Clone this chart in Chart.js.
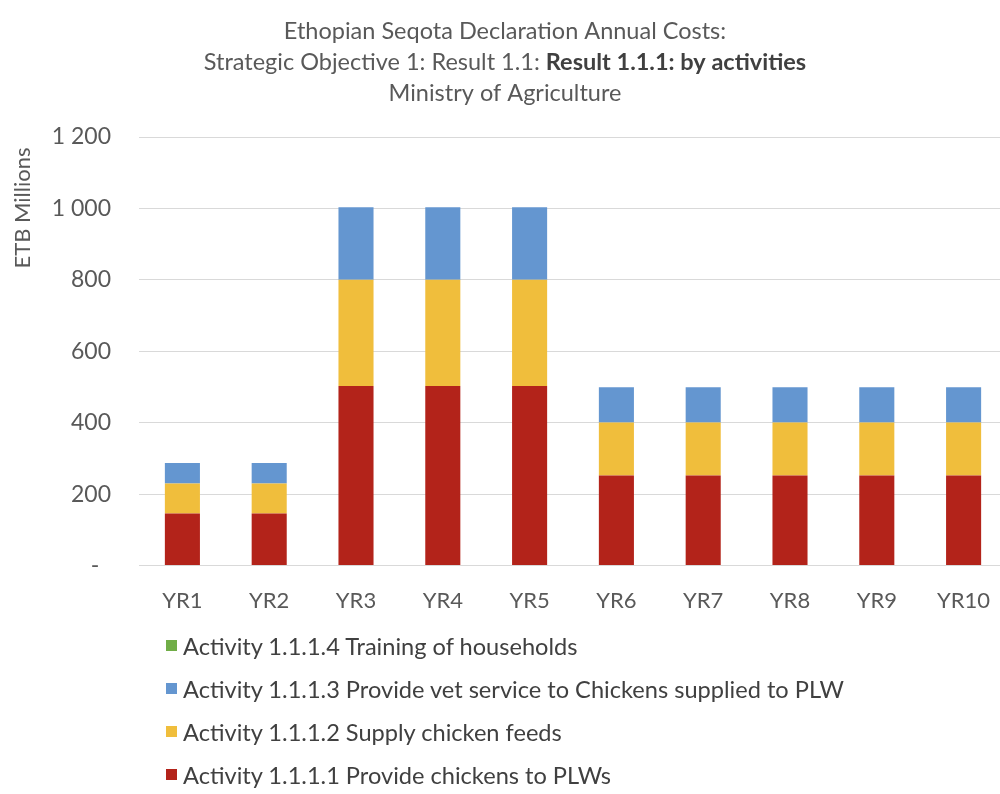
<!DOCTYPE html>
<html>
<head>
<meta charset="utf-8">
<title>Seqota Declaration Annual Costs</title>
<script src="https://cdn.jsdelivr.net/npm/chart.js@4.4.1/dist/chart.umd.min.js"></script>
<style>
  html, body { margin: 0; padding: 0; background: #fff; overflow: hidden; }
  #wrap { position: relative; width: 1010px; height: 636px; }
  #legend {
    position: absolute; left: 166px; top: 624px;
    font-family: Lato, "Open Sans", sans-serif; font-size: 23.6px; color: #404040;
  }
  .item { display: flex; align-items: center; height: 43px; white-space: nowrap; }
  .swatch { width: 11px; height: 11px; margin-right: 6px; flex: none; }
</style>
</head>
<body>
<div id="wrap"><canvas id="chart"></canvas></div>
<div id="legend"></div>
<script>
// data (ETB millions)
const years = ['YR1', 'YR2', 'YR3', 'YR4', 'YR5', 'YR6', 'YR7', 'YR8', 'YR9', 'YR10'];
const provideChickens = [146, 146, 503, 503, 503, 252, 252, 252, 252, 252];
const chickenFeeds = [84, 84, 297, 297, 297, 149, 149, 149, 149, 149];
const vetService = [57, 57, 203, 203, 203, 98, 98, 98, 98, 98];
const training = [0, 0, 0, 0, 0, 0, 0, 0, 0, 0];

const seriesNames = [
  'Activity 1.1.1.1 Provide chickens to PLWs',
  'Activity 1.1.1.2 Supply chicken feeds',
  'Activity 1.1.1.3 Provide vet service to Chickens supplied to PLW',
  'Activity 1.1.1.4 Training of households'
];
const seriesColors = ['#B3231A', '#F0BE3C', '#6496D0', '#70AD47'];

const titleLines = [
  [{ text: 'Ethopian Seqota Declaration Annual Costs:' }],
  [{ text: 'Strategic Objective 1: Result 1.1: ' }, { text: 'Result 1.1.1: by activities', bold: true }],
  [{ text: 'Ministry of Agriculture' }]
];
const yAxisTitle = 'ETB Millions';

const FONT = 'Lato, "Open Sans", sans-serif';
const GREY = '#595959';

// title with a bold part in the middle line, plus the y axis title
const richTitle = {
  id: 'richTitle',
  afterDraw(chart) {
    const ctx = chart.ctx;
    const cx = chart.width / 2;
    const ys = [31, 62, 93];
    ctx.save();
    ctx.textBaseline = 'middle';
    ctx.textAlign = 'left';
    titleLines.forEach((parts, i) => {
      let total = 0;
      parts.forEach(p => {
        ctx.font = (p.bold ? 'bold ' : '') + '23.5px ' + FONT;
        p.w = ctx.measureText(p.text).width;
        total += p.w;
      });
      let x = cx - total / 2;
      parts.forEach(p => {
        ctx.font = (p.bold ? 'bold ' : '') + '23.5px ' + FONT;
        ctx.fillStyle = p.bold ? '#404040' : GREY;
        ctx.fillText(p.text, x, ys[i]);
        x += p.w;
      });
    });
    // axis title sits near the top of the value axis
    ctx.translate(23, 208);
    ctx.rotate(-Math.PI / 2);
    ctx.textAlign = 'center';
    ctx.font = '22px ' + FONT;
    ctx.fillStyle = GREY;
    ctx.fillText(yAxisTitle, 0, 0);
    ctx.restore();
  }
};

const datasets = [provideChickens, chickenFeeds, vetService, training].map((d, i) => ({
  label: seriesNames[i],
  data: d,
  backgroundColor: seriesColors[i],
  barPercentage: 0.404,
  categoryPercentage: 1.0
}));

const chart = new Chart(document.getElementById('chart'), {
  type: 'bar',
  data: { labels: years, datasets: datasets },
  options: {
    responsive: true,
    maintainAspectRatio: false,
    animation: false,
    layout: { padding: { top: 137, left: 8, right: 3, bottom: 8 } },
    scales: {
      x: {
        stacked: true,
        grid: { display: false },
        border: { display: false },
        ticks: { color: GREY, font: { family: FONT, size: 22 }, padding: 14 }
      },
      y: {
        stacked: true,
        min: 0,
        max: 1200,
        afterFit: (scale) => { scale.width = 131; },
        ticks: {
          stepSize: 200,
          color: GREY,
          padding: 28,
          font: { family: FONT, size: 23 },
          callback: (v) => v === 0 ? '-  ' : String(v).replace(/\B(?=(\d{3})+(?!\d))/g, ' ')
        },
        grid: { color: '#D9D9D9', lineWidth: 1, drawTicks: false },
        border: { display: false }
      }
    },
    plugins: {
      legend: { display: false },
      tooltip: { enabled: false }
    }
  },
  plugins: [richTitle]
});

// legend, one entry per row, top series first
const legendEl = document.getElementById('legend');
chart.data.datasets.slice().reverse().forEach(ds => {
  const row = document.createElement('div');
  row.className = 'item';
  const sw = document.createElement('span');
  sw.className = 'swatch';
  sw.style.background = ds.backgroundColor;
  const txt = document.createElement('span');
  txt.textContent = ds.label;
  row.appendChild(sw);
  row.appendChild(txt);
  legendEl.appendChild(row);
});
</script>
</body>
</html>
